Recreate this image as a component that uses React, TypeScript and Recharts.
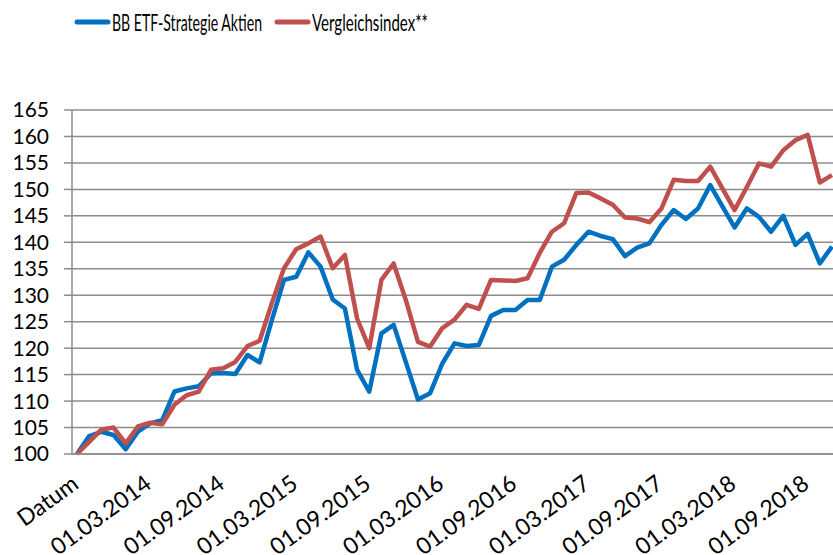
import React from "react"
import { LineChart, Line, XAxis, YAxis, CartesianGrid, Legend } from "recharts"

const dates = [
  "Datum",
  "01.10.2013", "01.11.2013", "01.12.2013",
  "01.01.2014", "01.02.2014", "01.03.2014", "01.04.2014", "01.05.2014", "01.06.2014",
  "01.07.2014", "01.08.2014", "01.09.2014", "01.10.2014", "01.11.2014", "01.12.2014",
  "01.01.2015", "01.02.2015", "01.03.2015", "01.04.2015", "01.05.2015", "01.06.2015",
  "01.07.2015", "01.08.2015", "01.09.2015", "01.10.2015", "01.11.2015", "01.12.2015",
  "01.01.2016", "01.02.2016", "01.03.2016", "01.04.2016", "01.05.2016", "01.06.2016",
  "01.07.2016", "01.08.2016", "01.09.2016", "01.10.2016", "01.11.2016", "01.12.2016",
  "01.01.2017", "01.02.2017", "01.03.2017", "01.04.2017", "01.05.2017", "01.06.2017",
  "01.07.2017", "01.08.2017", "01.09.2017", "01.10.2017", "01.11.2017", "01.12.2017",
  "01.01.2018", "01.02.2018", "01.03.2018", "01.04.2018", "01.05.2018", "01.06.2018",
  "01.07.2018", "01.08.2018", "01.09.2018", "01.10.2018", "01.11.2018",
]

const etfValues = [
  100, 103.4, 104.2, 103.6, 100.9, 104.2, 105.8, 106.4, 111.8, 112.4,
  112.8, 115.2, 115.3, 115.1, 118.7, 117.3, 125.3, 132.9, 133.5, 138.1,
  135.4, 129.2, 127.5, 115.9, 111.8, 122.8, 124.4, 117.4, 110.3, 111.5,
  117.1, 120.9, 120.4, 120.6, 126.1, 127.2, 127.2, 129.1, 129.1, 135.4,
  136.7, 139.5, 142.0, 141.2, 140.6, 137.4, 139.0, 139.8, 143.3, 146.1,
  144.4, 146.4, 150.8, 146.8, 142.8, 146.4, 144.8, 142.0, 145.0, 139.5,
  141.6, 136.0, 139.2,
]

const indexValues = [
  100, 102.3, 104.6, 105.0, 102.0, 105.2, 105.9, 105.6, 109.3, 111.1,
  111.8, 115.9, 116.2, 117.4, 120.4, 121.4, 128.5, 135.1, 138.7, 139.8,
  141.1, 135.1, 137.6, 125.6, 120.0, 132.9, 136.0, 129.1, 121.2, 120.3,
  123.8, 125.4, 128.2, 127.4, 132.9, 132.8, 132.7, 133.2, 138.0, 142.0,
  143.6, 149.3, 149.4, 148.3, 147.1, 144.7, 144.5, 143.8, 146.4, 151.8,
  151.6, 151.6, 154.3, 150.2, 146.1, 150.4, 154.9, 154.3, 157.4, 159.3,
  160.3, 151.3, 152.7,
]

const seriesNames = ["BB ETF-Strategie Aktien", "Vergleichsindex**"]
const yTicks = [100, 105, 110, 115, 120, 125, 130, 135, 140, 145, 150, 155, 160, 165]

const data = dates.map((date, i) => ({ date, etf: etfValues[i], index: indexValues[i] }))

const FONT = "Lato, 'Open Sans', sans-serif"
const GRID = "#8c8c8c"

// legend item positions (line start, text start, text width)
const legendSlots = [
  { x: 77, tx: 112, tw: 150 },
  { x: 277, tx: 312, tw: 116 },
]

const renderLegend = (props: any) => {
  const { payload = [] } = props
  return (
    <svg width={440} height={40} style={{ display: "block" }}>
      {payload.map((entry: any, i: number) => {
        const s = legendSlots[i]
        if (!s) return null
        return (
          <g key={entry.value}>
            <line x1={s.x} x2={s.x + 31} y1={22} y2={22} stroke={entry.color} strokeWidth={5} strokeLinecap="round" />
            <text
              x={s.tx}
              y={31}
              fontSize={24}
              fontFamily={FONT}
              fill="#000"
              textLength={s.tw}
              lengthAdjust="spacingAndGlyphs"
            >
              {entry.value}
            </text>
          </g>
        )
      })}
    </svg>
  )
}

const DateTick = (props: any) => {
  const { x, y, payload } = props
  return (
    <g transform={`translate(${x + 3},${y + 33})`}>
      <text x={0} y={0} textAnchor="end" transform="rotate(-36)" fontSize={23} fontFamily={FONT} fill="#000">
        {payload.value}
      </text>
    </g>
  )
}

export default function App() {
  return (
    <div style={{ position: "absolute", left: 0, top: 0, width: 833, height: 555, overflow: "hidden", background: "#fff" }}>
      <LineChart width={838} height={555} data={data} margin={{ top: 110, right: 0, bottom: 1, left: 0 }}>
        <CartesianGrid vertical={false} stroke={GRID} strokeWidth={1.5} />
        <XAxis
          dataKey="date"
          interval={5}
          tickLine={false}
          tickSize={0}
          tickMargin={0}
          axisLine={{ stroke: GRID, strokeWidth: 1.5 }}
          padding={{ left: 5, right: 6 }}
          height={100}
          tick={<DateTick />}
        />
        <YAxis
          width={72}
          domain={[100, 165]}
          ticks={yTicks}
          interval={0}
          tickSize={8}
          tickMargin={15}
          axisLine={{ stroke: GRID, strokeWidth: 1.5 }}
          tickLine={{ stroke: GRID, strokeWidth: 1.5 }}
          tick={{ fontSize: 21, fontFamily: FONT, fill: "#000" }}
        />
        <Legend
          verticalAlign="middle"
          align="center"
          content={renderLegend}
          wrapperStyle={{ top: 0, left: 0, width: 440, height: 40 }}
        />
        <Line
          type="linear"
          dataKey="etf"
          name={seriesNames[0]}
          stroke="#0070C0"
          strokeWidth={4.5}
          dot={false}
          strokeLinejoin="round"
          isAnimationActive={false}
        />
        <Line
          type="linear"
          dataKey="index"
          name={seriesNames[1]}
          stroke="#C0504D"
          strokeWidth={4.5}
          dot={false}
          strokeLinejoin="round"
          isAnimationActive={false}
        />
      </LineChart>
    </div>
  )
}
